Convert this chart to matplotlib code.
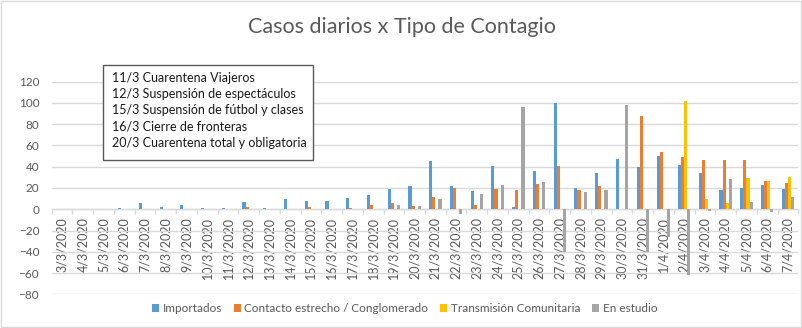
import matplotlib
matplotlib.use("Agg")
import matplotlib.pyplot as plt
from matplotlib.patches import Rectangle
import numpy as np

# Daily cases by transmission type
dates = [f"{d}/3/2020" for d in range(3, 32)] + [f"{d}/4/2020" for d in range(1, 8)]

importados = [0, 0, 0, 1, 6, 2, 4, 1, 1, 7, 1, 10, 8, 8, 11, 13, 19, 22, 45, 22,
              17, 41, 2, 36, 100, 20, 34, 47, 40, 50, 42, 34, 18, 20, 23, 19]
contacto = [0, 0, 0, 0, 0, 0, 0, 0, 0, 2, 0, 0, 2, 0, 1, 4, 6, 3, 12, 20,
            4, 19, 18, 24, 41, 18, 22, 0, 88, 54, 49, 46, 46, 46, 27, 25]
comunitaria = [0] * 30 + [102, 10, 6, 29, 27, 30]
en_estudio = [0, 0, 0, 0, 0, 0, 0, 0, 0, 0, 0, 0, 0, 0, 0, 0, 4, 3, 10, -4,
              14, 23, 96, 26, -40, 16, 18, 98, -40, -26, -62, -2, 28, 7, -3, 12]

series_names = ["Importados", "Contacto estrecho / Conglomerado",
                "Transmisión Comunitaria", "En estudio"]
series_values = [importados, contacto, comunitaria, en_estudio]
series_colors = ["#5B9BD5", "#ED7D31", "#FFC000", "#A5A5A5"]

title = "Casos diarios x Tipo de Contagio"
measures = ["11/3 Cuarentena Viajeros",
            "12/3 Suspensión de espectáculos",
            "15/3 Suspensión de fútbol y clases",
            "16/3 Cierre de fronteras",
            "20/3 Cuarentena total y obligatoria"]
y_ticks = list(range(-80, 121, 20))

plt.rcParams["font.family"] = ["Lato", "DejaVu Sans"]
W, H = 803, 328
fig = plt.figure(figsize=(W / 100, H / 100), dpi=100)
fig.patch.set_facecolor("white")

ax = fig.add_axes([51.7 / W, (H - 294.3) / H, (798.3 - 51.7) / W, (294.3 - 81.7) / H])
ax.set_facecolor("white")

x = np.arange(len(dates))
bw = 0.15
handles = []
for k, (name, vals, col) in enumerate(zip(series_names, series_values, series_colors)):
    b = ax.bar(x + (k - 1.5) * bw, vals, width=bw, color=col, label=name, zorder=3)
    handles.append(b)

ax.set_xlim(-0.5, len(dates) - 0.5)
ax.set_ylim(-80, 120)
ax.set_yticks(y_ticks)
ax.yaxis.grid(True, color="#D9D9D9", linewidth=1.0, zorder=0)
ax.set_axisbelow(True)

for s in ["top", "right", "left"]:
    ax.spines[s].set_visible(False)
ax.spines["bottom"].set_position(("data", 0))
ax.spines["bottom"].set_color("#D9D9D9")
ax.spines["bottom"].set_linewidth(1.0)
ax.spines["bottom"].set_zorder(2)

ax.set_xticks(x)
ax.set_xticklabels(dates, rotation=90, va="top", ha="center")
ax.set_xticks(np.arange(-0.5, len(dates), 1.0), minor=True)
ax.tick_params(axis="x", which="major", length=0, pad=5.5, labelsize=9, labelcolor="#595959")
ax.tick_params(axis="x", which="minor", length=3.5, width=1.0, color="#D9D9D9", direction="out")
ax.tick_params(axis="y", length=0, pad=9, labelsize=8.5, labelcolor="#595959")

# Title
fig.text(401.5 / W, 1 - 27 / H, title, ha="center", va="center",
         fontsize=15.5, color="#595959")

# Box with the measures timeline
fig.patches.append(Rectangle((103.3 / W, 1 - 160 / H), (313 - 103.3) / W, (160 - 65.3) / H,
                             transform=fig.transFigure, fill=True, facecolor="white",
                             edgecolor="#595959", linewidth=1.0, zorder=5))
for i, line in enumerate(measures):
    fig.text(112.5 / W, 1 - (78.3 + i * 16.1) / H, line, ha="left", va="center",
             fontsize=9.0, color="#1a1a1a", zorder=6)

# Legend
fig.legend(handles=handles, labels=series_names, loc="center", ncol=4,
           bbox_to_anchor=(404.7 / W, 1 - 308.7 / H), frameon=False,
           fontsize=8.5, labelcolor="#595959", handlelength=0.6, handleheight=0.6,
           handletextpad=0.3, columnspacing=1.0, borderaxespad=0)

# Outer chart border
fig.patches.append(Rectangle((0.7 / W, 1 / H), (801.5 - 0.7) / W, (327 - 0.7) / H,
                             transform=fig.transFigure, fill=False,
                             edgecolor="#D9D9D9", linewidth=1.0))

fig.savefig("out.png", dpi=100, facecolor="white")
